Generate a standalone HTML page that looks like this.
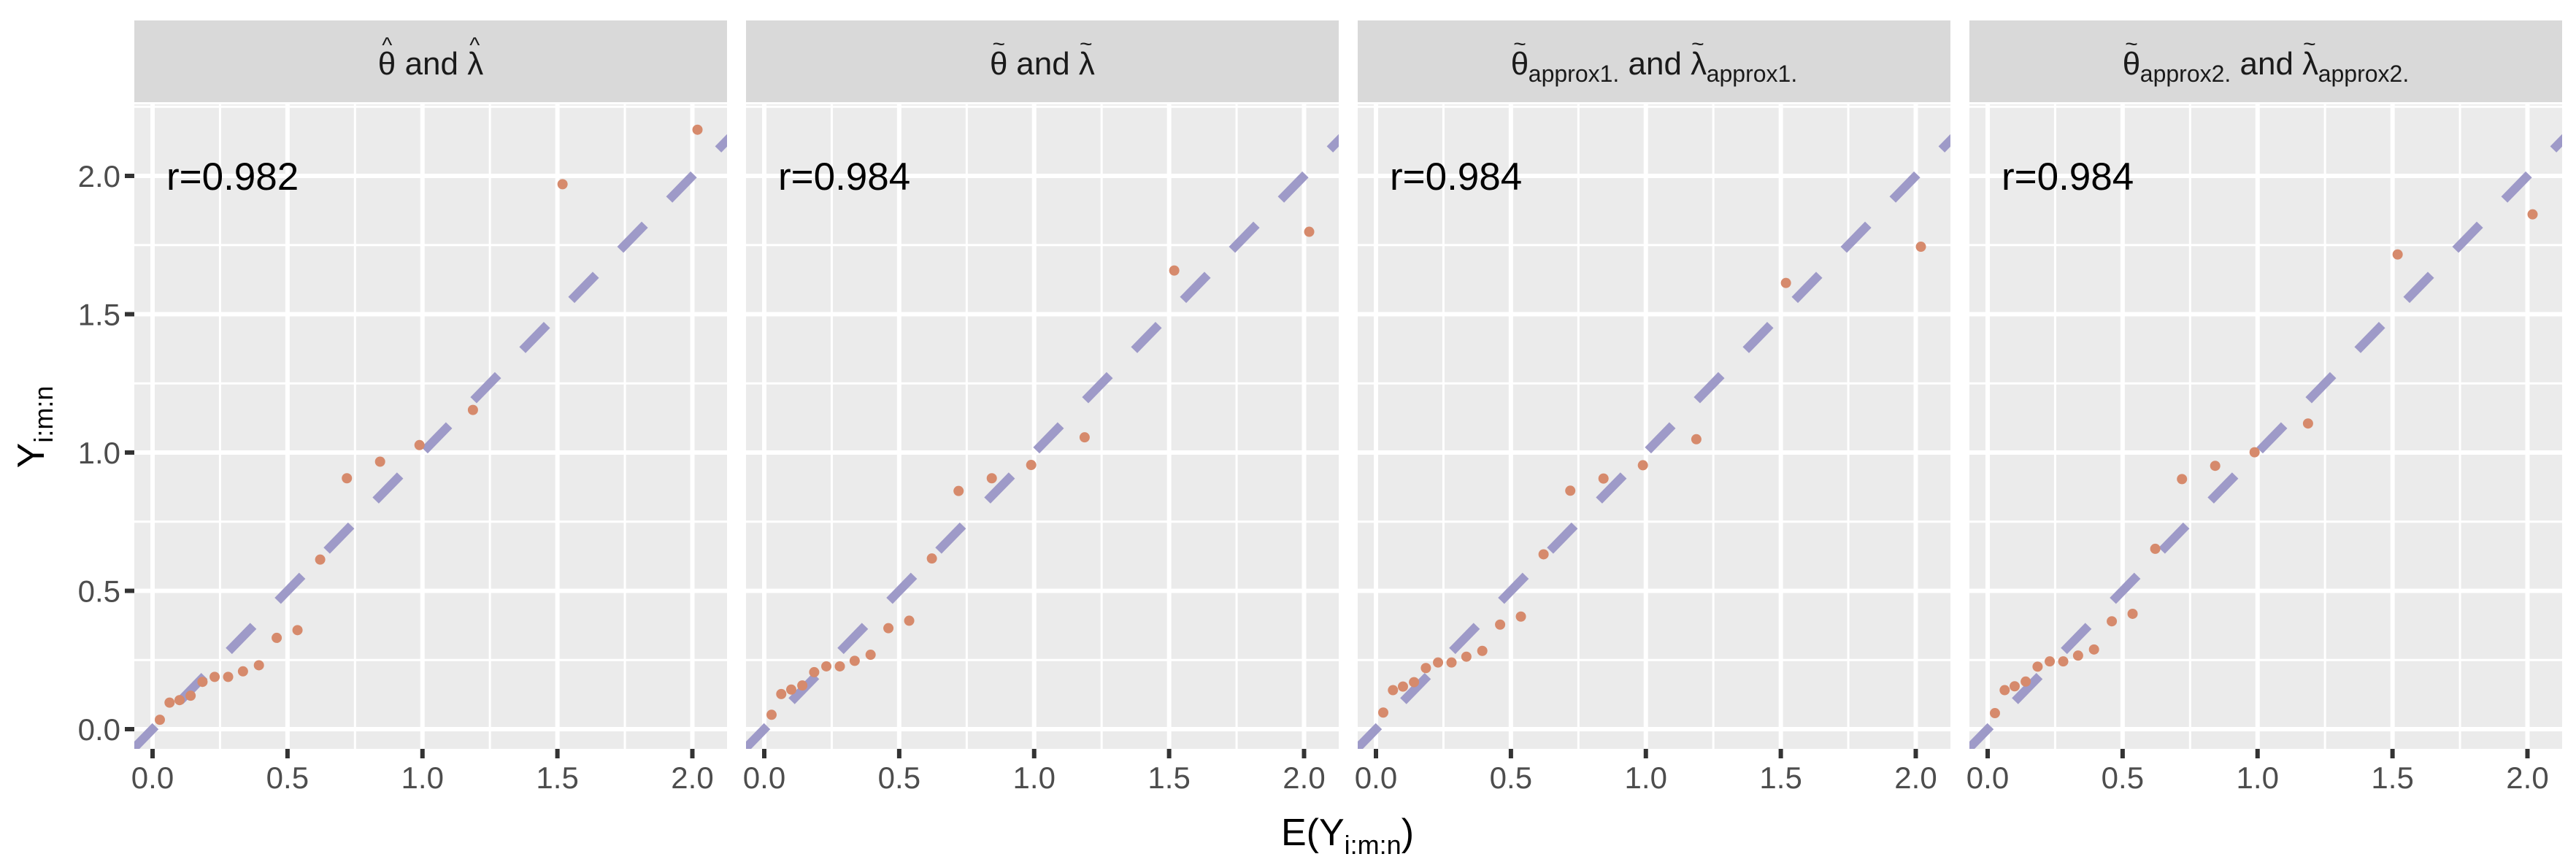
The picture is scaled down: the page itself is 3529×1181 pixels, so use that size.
<!DOCTYPE html>
<html><head><meta charset="utf-8"><style>
html,body{margin:0;padding:0;background:#fff;}
svg{display:block;font-family:"Liberation Sans",Arial,sans-serif;}
</style></head><body>
<svg id="chart" width="3529" height="1181" viewBox="0 0 3529 1181" xmlns="http://www.w3.org/2000/svg"></svg>
<script>
const expected = [0.027,0.063,0.100,0.141,0.185,0.230,0.280,0.335,0.394,0.460,0.537,0.621,0.720,0.843,0.989,1.187,1.519,2.019];
const yHat = [0.034,0.096,0.105,0.121,0.171,0.189,0.189,0.209,0.231,0.330,0.358,0.613,0.907,0.967,1.027,1.154,1.970,2.167];
const yTilde = [0.052,0.127,0.143,0.158,0.206,0.227,0.227,0.247,0.269,0.365,0.392,0.617,0.861,0.907,0.955,1.055,1.658,1.798];
const yApprox1 = [0.060,0.141,0.154,0.170,0.221,0.241,0.241,0.262,0.283,0.378,0.407,0.632,0.862,0.906,0.954,1.048,1.613,1.744];
const yApprox2 = [0.058,0.141,0.155,0.172,0.226,0.245,0.245,0.266,0.288,0.390,0.417,0.652,0.904,0.952,1.001,1.105,1.716,1.861];
const rLabels = ["r=0.982","r=0.984","r=0.984","r=0.984"];
const xTicks = [0,0.5,1.0,1.5,2.0];
const xTickLabels = ["0.0","0.5","1.0","1.5","2.0"];
const yTicks = [0,0.5,1.0,1.5,2.0];
const yTickLabels = ["0.0","0.5","1.0","1.5","2.0"];
const xMinor = [0.25,0.75,1.25,1.75];
const yMinor = [0.25,0.75,1.25,1.75,2.25];

const series = [yHat,yTilde,yApprox1,yApprox2];
const NS = "http://www.w3.org/2000/svg";
const svg = document.getElementById('chart');
const panelLeft0 = 184, panelW = 812, panelStep = 838, panelTop = 143, panelBottom = 1026;
const X0 = 25, XU = 369.75, Y0 = 999, YU = 379;
function mk(tag, attrs, parent){ const e=document.createElementNS(NS,tag); for(const k in attrs) e.setAttribute(k,attrs[k]); (parent||svg).appendChild(e); return e; }

const hatUp = '<tspan font-size="30" dx="-19" dy="-30">^</tspan>';
const tilUp = '<tspan font-size="30" dx="-21" dy="-32">~</tspan>';
const titles = [
 'θ'+hatUp+'<tspan dx="5" dy="30"> and λ</tspan>'+hatUp,
 'θ'+tilUp+'<tspan dx="3" dy="32"> and λ</tspan>'+tilUp,
 'θ'+tilUp+'<tspan font-size="32" dx="3" dy="42">approx1.</tspan><tspan dy="-10"> and λ</tspan>'+tilUp+'<tspan font-size="32" dx="3" dy="42">approx1.</tspan>',
 'θ'+tilUp+'<tspan font-size="32" dx="3" dy="42">approx2.</tspan><tspan dy="-10"> and λ</tspan>'+tilUp+'<tspan font-size="32" dx="3" dy="42">approx2.</tspan>'
];

for(let p=0;p<4;p++){
  const L = panelLeft0 + p*panelStep;
  const sx = v => L + X0 + v*XU;
  const sy = v => Y0 - v*YU;
  const g = mk('g',{});
  
  
  const strip = mk('rect',{x:L,y:28,width:panelW,height:112,fill:'#d9d9d9'},g);
  
  
  const st = mk('text',{x:L+panelW/2,y:102,'text-anchor':'middle','font-size':44,fill:'#1a1a1a'},g);
  st.innerHTML = titles[p];
  
  
  const bg = mk('rect',{x:L,y:panelTop,width:panelW,height:panelBottom-panelTop,fill:'#ebebeb'},g);
  
  
  xMinor.forEach(v=>{ const l=mk('line',{x1:sx(v),x2:sx(v),y1:panelTop,y2:panelBottom,stroke:'#fff','stroke-width':3},g);   });
  yMinor.forEach(v=>{ const l=mk('line',{x1:L,x2:L+panelW,y1:sy(v),y2:sy(v),stroke:'#fff','stroke-width':3},g);   });
  xTicks.forEach((v,i)=>{
    const l=mk('line',{x1:sx(v),x2:sx(v),y1:panelTop,y2:panelBottom,stroke:'#fff','stroke-width':6},g);
     
    const t=mk('line',{x1:sx(v),x2:sx(v),y1:panelBottom,y2:panelBottom+13,stroke:'#333','stroke-width':6},g);
     
    const tx=mk('text',{x:sx(v),y:1080,'text-anchor':'middle','font-size':42,fill:'#4d4d4d'},g);
    tx.textContent = xTickLabels[i];
     
  });
  yTicks.forEach((v,i)=>{
    const l=mk('line',{x1:L,x2:L+panelW,y1:sy(v),y2:sy(v),stroke:'#fff','stroke-width':6},g);
     
    if(p===0){
      const t=mk('line',{x1:L-13,x2:L,y1:sy(v),y2:sy(v),stroke:'#333','stroke-width':6},g);
       
      const tx=mk('text',{x:L-19,y:sy(v)+15,'text-anchor':'end','font-size':42,fill:'#4d4d4d'},g);
      tx.textContent = yTickLabels[i];
       
    }
  });
  const clipId='clip'+p;
  const cp=mk('clipPath',{id:clipId},g);
  mk('rect',{x:L,y:panelTop,width:panelW,height:panelBottom-panelTop},cp);
  const lx0=-0.08, lx1=2.2;
  const ref=mk('line',{x1:sx(lx0),y1:sy(lx0),x2:sx(lx1),y2:sy(lx1),stroke:'#9e9ac8','stroke-width':12,'stroke-dasharray':'48 48','clip-path':'url(#'+clipId+')'},g);
  
  
  series[p].forEach((v,i)=>{
    const c=mk('circle',{cx:sx(expected[i]),cy:sy(v),r:7,fill:'#d68a6c'},g);
    
    
  });
  const rt=mk('text',{x:L+44,y:260,'font-size':53,fill:'#000'},g);
  rt.textContent = rLabels[p];
  
  
}
const xt=mk('text',{x:1846,y:1158,'text-anchor':'middle','font-size':52,fill:'#000'});
xt.innerHTML='E(Y<tspan font-size="36" dy="12">i:m:n</tspan><tspan dy="-12">)</tspan>';


const yt=mk('text',{x:0,y:0,'text-anchor':'middle','font-size':52,fill:'#000',transform:'translate(60,585) rotate(-90)'});
yt.innerHTML='Y<tspan font-size="36" dy="12">i:m:n</tspan>';


</script>
</body></html>
